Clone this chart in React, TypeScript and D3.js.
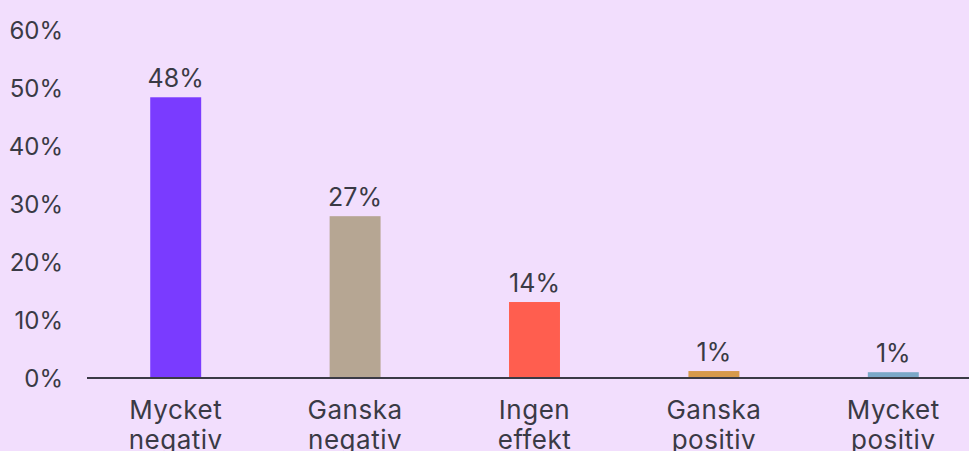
import React from "react";
import * as d3 from "d3";

const categories = ["Mycket negativ", "Ganska negativ", "Ingen effekt", "Ganska positiv", "Mycket positiv"];
const values = [48.4, 27.9, 13.1, 1.2, 1.0];
const valueLabels = ["48%", "27%", "14%", "1%", "1%"];
const barColors = ["#7a3bff", "#b6a693", "#ff5e4f", "#d6994a", "#7ba8c8"];
const yTicks = [0, 10, 20, 30, 40, 50, 60];

const W = 969;
const H = 451;
const textColor = "#3a3a45";
const font = "Inter, 'Noto Sans', sans-serif";

export default function App() {
  const x = d3.scaleBand<string>().domain(categories).range([86, 983]).paddingInner(0.716).paddingOuter(0.358);
  const y = d3.scaleLinear().domain([0, 60]).range([378, 30]);
  return (
    <svg width={W} height={H} style={{ position: "absolute", left: 0, top: 0, display: "block" }}>
      <rect x={0} y={0} width={W} height={H} fill="#f2defd" />
      {yTicks.map((t) => (
        <text key={t} x={63} y={y(t) + 9} textAnchor="end" fontFamily={font} fontSize={24} fill={textColor}>
          {t}%
        </text>
      ))}
      {categories.map((c, i) => {
        const bx = x(c)!;
        const cx = bx + x.bandwidth() / 2;
        const words = c.split(" ");
        return (
          <g key={c}>
            <rect x={bx} y={y(values[i])} width={x.bandwidth()} height={y(0) - y(values[i])} fill={barColors[i]} />
            <text x={cx} y={y(values[i]) - 10} textAnchor="middle" fontFamily={font} fontSize={25} fill={textColor}>
              {valueLabels[i]}
            </text>
            {words.map((w, j) => (
              <text key={j} x={cx} y={419 + j * 30} textAnchor="middle" fontFamily={font} fontSize={26} letterSpacing={0.5} fill={textColor}>
                {w}
              </text>
            ))}
          </g>
        );
      })}
      <line x1={87} x2={W} y1={y(0)} y2={y(0)} stroke="#3a3a45" strokeWidth={2} />
    </svg>
  );
}
